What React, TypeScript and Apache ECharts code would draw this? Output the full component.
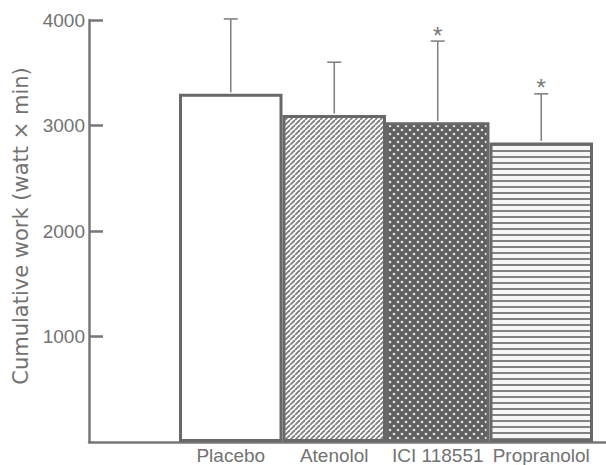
import React, { useEffect, useRef } from "react";
import * as echarts from "echarts";

const categories = ["Placebo", "Atenolol", "ICI 118551", "Propranolol"];
const meanWork = [3300, 3100, 3030, 2840];
const upperError = [4010, 3600, 3800, 3300];
const significance = ["", "", "*", "*"];
const yTicks = [0, 1000, 2000, 3000, 4000];

function makeTile(size: number, draw: (ctx: CanvasRenderingContext2D) => void) {
  const c = document.createElement("canvas");
  c.width = size;
  c.height = size;
  const ctx = c.getContext("2d")!;
  draw(ctx);
  return c;
}

export default function App() {
  const ref = useRef<HTMLDivElement>(null);
  useEffect(() => {
    if (!ref.current) return;
    const chart = echarts.init(ref.current, null, { renderer: "svg" });

    const diag = makeTile(5, (ctx) => {
      ctx.fillStyle = "#ffffff";
      ctx.fillRect(0, 0, 5, 5);
      ctx.strokeStyle = "#828282";
      ctx.lineWidth = 1.9;
      for (let k = -1; k <= 1; k++) {
        ctx.beginPath();
        ctx.moveTo(k * 5, 5);
        ctx.lineTo(k * 5 + 5, 0);
        ctx.stroke();
      }
    });
    const dots = makeTile(8, (ctx) => {
      ctx.fillStyle = "#606060";
      ctx.fillRect(0, 0, 8, 8);
      ctx.fillStyle = "#e2e2e2";
      ctx.beginPath();
      ctx.arc(2, 2, 1.35, 0, Math.PI * 2);
      ctx.fill();
      ctx.beginPath();
      ctx.arc(6, 6, 1.35, 0, Math.PI * 2);
      ctx.fill();
    });
    const horiz = makeTile(6, (ctx) => {
      ctx.fillStyle = "#f6f6f6";
      ctx.fillRect(0, 0, 6, 6);
      ctx.fillStyle = "#828282";
      ctx.fillRect(0, 0, 6, 2);
    });

    const fills: any[] = [
      "#ffffff",
      { image: diag, repeat: "repeat" },
      { image: dots, repeat: "repeat" },
      { image: horiz, repeat: "repeat" },
    ];

    const slotPx = 103.5;
    const gridLeft = 89;
    const barStartPx = 179;
    const xMin = -(barStartPx - gridLeft) / slotPx;
    const xMax = (606 - barStartPx) / slotPx;
    const pos = categories.map((_, i) => i + 0.5);

    const axisColor = "#777777";
    const textColor = "#727272";
    const font = "'Liberation Sans', Arial, sans-serif";

    chart.setOption({
      animation: false,
      backgroundColor: "#ffffff",
      grid: { left: gridLeft, right: 0, top: 20, bottom: 23 },
      xAxis: {
        type: "value",
        min: xMin,
        max: xMax,
        splitLine: { show: false },
        axisTick: { show: false },
        axisLine: { show: true, onZero: false, lineStyle: { color: axisColor, width: 2.5 } },
        axisLabel: {
          customValues: pos,
          formatter: (v: number) => categories[Math.round(v - 0.5)] ?? "",
          color: textColor,
          fontSize: 19,
          fontFamily: font,
          margin: 4,
        },
      },
      yAxis: {
        type: "value",
        min: yTicks[0],
        max: yTicks[yTicks.length - 1],
        interval: 1000,
        splitLine: { show: false },
        axisLine: { show: true, onZero: false, lineStyle: { color: axisColor, width: 2.5 } },
        axisTick: { show: true, inside: true, length: 14, lineStyle: { color: axisColor, width: 2.5 } },
        axisLabel: {
          color: textColor,
          fontSize: 19,
          fontFamily: font,
          margin: 4,
          showMinLabel: false,
          formatter: (v: number) => String(v),
        },
        name: "Cumulative work (watt \u00d7 min)",
        nameLocation: "middle",
        nameGap: 57,
        nameTextStyle: {
          color: textColor,
          fontSize: 21,
          fontFamily: "'DejaVu Sans', sans-serif",
          padding: [0, 0, 0, 10],
        },
      },
      series: [
        {
          type: "bar",
          barWidth: slotPx,
          data: meanWork.map((v, i) => ({
            value: [pos[i], v],
            itemStyle: { color: fills[i] },
          })),
          itemStyle: { borderColor: "#686868", borderWidth: 3 },
          z: 2,
        },
        {
          type: "custom",
          z: 3,
          data: upperError.map((u, i) => [pos[i], u, meanWork[i]]),
          renderItem: (params: any, api: any) => {
            const x = api.value(0);
            const hi = api.value(1);
            const lo = api.value(2);
            const pHi = api.coord([x, hi]);
            const pLo = api.coord([x, lo]);
            const style = { stroke: "#838383", lineWidth: 1.6 };
            const children: any[] = [
              { type: "line", shape: { x1: pHi[0], y1: pHi[1], x2: pLo[0], y2: pLo[1] - 1.5 }, style },
              { type: "line", shape: { x1: pHi[0] - 7, y1: pHi[1], x2: pHi[0] + 7, y2: pHi[1] }, style },
            ];
            const mark = significance[params.dataIndex];
            if (mark) {
              children.push({
                type: "text",
                x: pHi[0],
                y: pHi[1] - 6,
                style: {
                  text: mark,
                  fill: "#777777",
                  fontSize: 24,
                  fontFamily: font,
                  align: "center",
                  verticalAlign: "middle",
                },
              });
            }
            return { type: "group", children };
          },
        },
      ],
    });
    return () => chart.dispose();
  }, []);
  return (
    <div
      ref={ref}
      style={{ position: "absolute", left: 0, top: 0, width: 606, height: 465, background: "#fff" }}
    />
  );
}
